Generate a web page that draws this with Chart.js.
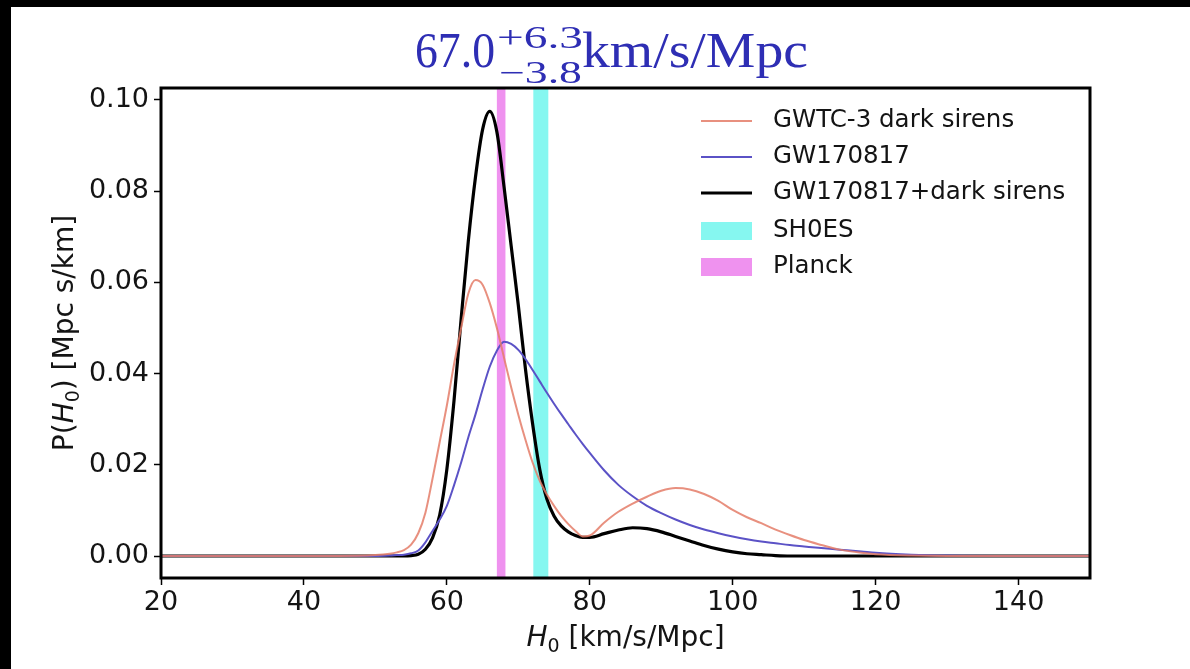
<!DOCTYPE html>
<html>
<head>
<meta charset="utf-8">
<script src="https://cdn.jsdelivr.net/npm/chart.js@4.4.1/dist/chart.umd.min.js"></script>
<style>
  html, body { margin: 0; padding: 0; background: #fff; }
  #wrap { position: absolute; left: 0; top: 0; width: 1190px; height: 669px; }
</style>
</head>
<body>
<div id="wrap"><canvas id="chart" width="1190" height="669"></canvas></div>
<script>
// H0 grid (km/s/Mpc)
const h0 = [20, 30, 40, 45, 50, 52, 53, 54, 55, 56, 57, 58, 59,
  60, 61, 62, 63, 64, 65, 66, 67, 68, 69, 70, 71, 72, 73, 74, 75, 76, 77, 78, 79, 80,
  82, 84, 86, 88, 90, 92, 94, 96, 98, 100, 102, 104, 106, 108, 110, 112,
  115, 118, 120, 125, 130, 140, 150];

// GWTC-3 dark sirens
const darkSirens = [0, 0, 0, 0, 0.0002, 0.0005, 0.0008, 0.0013, 0.0025, 0.005, 0.0095, 0.017, 0.025,
  0.033, 0.042, 0.050, 0.0575, 0.0605, 0.0595, 0.0555, 0.0500, 0.0435, 0.0370, 0.0310, 0.0255, 0.0205, 0.0165, 0.0135, 0.011, 0.0088, 0.007, 0.0055, 0.0043, 0.0045,
  0.0073, 0.0097, 0.0115, 0.013, 0.0143, 0.0149, 0.0146, 0.0136, 0.0121, 0.0101, 0.0085, 0.0072, 0.0058, 0.0046, 0.0035, 0.0026,
  0.0014, 0.0007, 0.0004, 0.0001, 0, 0, 0];

// GW170817 alone
const gw170817 = [0, 0, 0, 0, 0, 0.0001, 0.0002, 0.0003, 0.0006, 0.0012, 0.003, 0.0055, 0.008,
  0.011, 0.0155, 0.0205, 0.026, 0.031, 0.0365, 0.0415, 0.045, 0.047, 0.0465, 0.0452, 0.0432, 0.0408, 0.0383, 0.0358, 0.0334, 0.0311, 0.0289, 0.0267, 0.0246, 0.0226,
  0.0188, 0.0156, 0.0131, 0.011, 0.0094, 0.008, 0.0068, 0.0058, 0.005, 0.0043, 0.0037, 0.0032, 0.0028, 0.0024, 0.0021, 0.0018,
  0.0014, 0.001, 0.0007, 0.0003, 0.0001, 0, 0];

// GW170817 + dark sirens
const combined = [0, 0, 0, 0, 0, 0, 0, 0, 0.0001, 0.0004, 0.0015, 0.004, 0.009,
  0.019, 0.034, 0.052, 0.069, 0.083, 0.0935, 0.0975, 0.093, 0.081, 0.068, 0.055, 0.041, 0.029, 0.019, 0.0125, 0.0088, 0.0066, 0.0053, 0.0045, 0.0041, 0.0041,
  0.0049, 0.0057, 0.0062, 0.006, 0.0053, 0.0043, 0.0033, 0.0023, 0.0015, 0.0009, 0.0005, 0.0003, 0.0001, 0, 0, 0,
  0, 0, 0, 0, 0, 0, 0];

const xTicks = [20, 40, 60, 80, 100, 120, 140];
const yTicks = [0, 0.02, 0.04, 0.06, 0.08, 0.10];

// vertical bands (H0 ranges)
const shoesBand = [72.1, 74.2];
const planckBand = [67.0, 68.2];

const seriesNames = ['GWTC-3 dark sirens', 'GW170817', 'GW170817+dark sirens'];
const bandNames = ['SH0ES', 'Planck'];

const titleMain = '67.0';
const titleUp = '+6.3';
const titleDown = '\u22123.8';
const titleUnit = 'km/s/Mpc';

const COL_ORANGE = 'rgba(228,124,104,0.85)';
const COL_BLUE = '#5b52c6';
const COL_BLACK = '#000';
const COL_SHOES = '#86f7f0';
const COL_PLANCK = '#ef92ef';
const FONT = '"DejaVu Sans", sans-serif';
const TXT = '#141414';

function pts(ys) {
  return h0.map((x, i) => ({ x: x, y: ys[i] }));
}

// draws text stretched/squeezed to a given width
function fitText(ctx, txt, x, y, w, font, color) {
  ctx.save();
  ctx.font = font;
  ctx.fillStyle = color;
  ctx.textBaseline = 'alphabetic';
  ctx.textAlign = 'left';
  const m = ctx.measureText(txt).width;
  ctx.translate(x, y);
  ctx.scale(w / m, 1);
  ctx.fillText(txt, 0, 0);
  ctx.restore();
}

const backdrop = {
  id: 'backdrop',
  beforeDraw(chart) {
    const ctx = chart.ctx;
    ctx.save();
    ctx.fillStyle = '#fff';
    ctx.fillRect(0, 0, chart.width, chart.height);
    ctx.fillStyle = '#000';
    ctx.fillRect(0, 0, chart.width, 7);
    ctx.fillRect(0, 0, 11, chart.height);
    ctx.restore();
  }
};

const bands = {
  id: 'bands',
  beforeDatasetsDraw(chart) {
    const { ctx, chartArea: a, scales: { x } } = chart;
    ctx.save();
    ctx.beginPath();
    ctx.rect(a.left, a.top, a.right - a.left, a.bottom - a.top);
    ctx.clip();
    [[shoesBand, COL_SHOES], [planckBand, COL_PLANCK]].forEach(([b, c]) => {
      const x0 = x.getPixelForValue(b[0]);
      const x1 = x.getPixelForValue(b[1]);
      ctx.fillStyle = c;
      ctx.fillRect(x0, a.top, x1 - x0, a.bottom - a.top);
    });
    ctx.restore();
  }
};

const decorations = {
  id: 'decorations',
  afterDraw(chart) {
    const { ctx, chartArea: a } = chart;
    ctx.save();

    // frame
    ctx.strokeStyle = '#000';
    ctx.lineWidth = 3;
    ctx.strokeRect(a.left, a.top, a.right - a.left, a.bottom - a.top);

    // title with super/subscript
    const blue = '#2e2eb4';
    fitText(ctx, titleMain, 415, 67, 80, '50px "Liberation Serif", serif', blue);
    fitText(ctx, titleUp, 497, 48, 86, '31px "Liberation Serif", serif', blue);
    fitText(ctx, titleDown, 499, 83, 83, '31px "Liberation Serif", serif', blue);
    fitText(ctx, titleUnit, 582, 67, 226, '50px "Liberation Serif", serif', blue);

    // x axis title: H0 [km/s/Mpc]
    const cx = (a.left + a.right) / 2;
    const ty = 646;
    ctx.fillStyle = TXT;
    ctx.textBaseline = 'alphabetic';
    ctx.textAlign = 'left';
    const fItal = 'italic 28px ' + FONT, fNorm = '28px ' + FONT, fSub = '19px ' + FONT;
    ctx.font = fItal; const wH = ctx.measureText('H').width;
    ctx.font = fSub; const w0 = ctx.measureText('0').width;
    ctx.font = fNorm; const wRest = ctx.measureText(' [km/s/Mpc]').width;
    let sx = cx - (wH + w0 + wRest) / 2;
    ctx.font = fItal; ctx.fillText('H', sx, ty); sx += wH;
    ctx.font = fSub; ctx.fillText('0', sx, ty + 6); sx += w0;
    ctx.font = fNorm; ctx.fillText(' [km/s/Mpc]', sx, ty);

    // y axis title: P(H0) [Mpc s/km]
    ctx.save();
    ctx.translate(73, (a.top + a.bottom) / 2);
    ctx.rotate(-Math.PI / 2);
    ctx.font = fNorm; const wP = ctx.measureText('P(').width;
    const wTail = ctx.measureText(') [Mpc s/km]').width;
    let sy = -(wP + wH + w0 + wTail) / 2;
    ctx.font = fNorm; ctx.fillText('P(', sy, 0); sy += wP;
    ctx.font = fItal; ctx.fillText('H', sy, 0); sy += wH;
    ctx.font = fSub; ctx.fillText('0', sy, 6); sy += w0;
    ctx.font = fNorm; ctx.fillText(') [Mpc s/km]', sy, 0);
    ctx.restore();

    // legend
    const lx = a.right - 389, tx = a.right - 317;
    const rows = [a.top + 33, a.top + 69, a.top + 105, a.top + 143, a.top + 179];
    const lineCols = [COL_ORANGE, COL_BLUE, COL_BLACK];
    const lineW = [2, 2, 2.8];
    ctx.font = '24.5px ' + FONT;
    ctx.textBaseline = 'middle';
    seriesNames.forEach((n, i) => {
      ctx.strokeStyle = lineCols[i];
      ctx.lineWidth = lineW[i];
      ctx.beginPath();
      ctx.moveTo(lx, rows[i]);
      ctx.lineTo(lx + 51, rows[i]);
      ctx.stroke();
      ctx.fillStyle = TXT;
      ctx.fillText(n, tx, rows[i]);
    });
    [COL_SHOES, COL_PLANCK].forEach((c, i) => {
      const ry = rows[3 + i];
      ctx.fillStyle = c;
      ctx.fillRect(lx, ry - 9, 51, 18);
      ctx.fillStyle = TXT;
      ctx.fillText(bandNames[i], tx, ry);
    });

    ctx.restore();
  }
};

new Chart(document.getElementById('chart'), {
  type: 'line',
  data: {
    datasets: [
      { label: seriesNames[0], data: pts(darkSirens), borderColor: COL_ORANGE, borderWidth: 2 },
      { label: seriesNames[1], data: pts(gw170817), borderColor: COL_BLUE, borderWidth: 2 },
      { label: seriesNames[2], data: pts(combined), borderColor: COL_BLACK, borderWidth: 3.2 }
    ]
  },
  options: {
    responsive: false,
    animation: false,
    devicePixelRatio: 1,
    layout: { padding: { left: 11, top: 88, right: 100, bottom: 0 } },
    elements: {
      point: { radius: 0 },
      line: { cubicInterpolationMode: 'monotone', fill: false, borderCapStyle: 'round', borderJoinStyle: 'round' }
    },
    plugins: { legend: { display: false }, tooltip: { enabled: false }, title: { display: false } },
    scales: {
      x: {
        type: 'linear',
        min: 20,
        max: 150,
        afterBuildTicks: s => { s.ticks = xTicks.map(v => ({ value: v })); },
        afterFit: s => { s.height = 91; },
        border: { display: false },
        grid: { drawOnChartArea: false, drawTicks: true, tickLength: 7, tickWidth: 1.5, tickColor: '#000' },
        ticks: { color: TXT, font: { family: FONT, size: 27 }, padding: 2, maxRotation: 0 }
      },
      y: {
        type: 'linear',
        min: -0.00482,
        max: 0.10263,
        afterBuildTicks: s => { s.ticks = yTicks.map(v => ({ value: v })); },
        afterFit: s => { s.width = 150; },
        border: { display: false },
        grid: { drawOnChartArea: false, drawTicks: true, tickLength: 7, tickWidth: 1.5, tickColor: '#000' },
        ticks: { color: TXT, font: { family: FONT, size: 27 }, padding: 5, callback: v => v.toFixed(2) }
      }
    }
  },
  plugins: [backdrop, bands, decorations]
});
</script>
</body>
</html>
